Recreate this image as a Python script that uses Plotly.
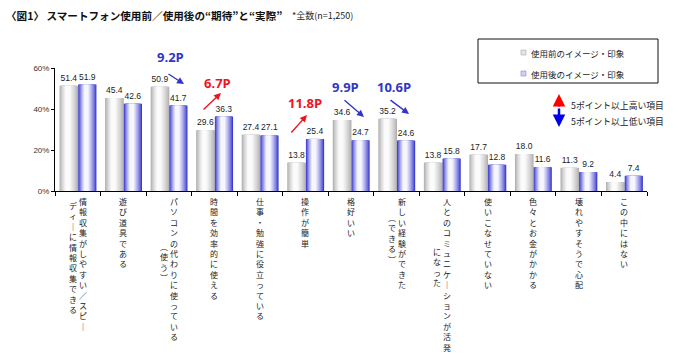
import plotly.graph_objects as go
import numpy as np

# ---------------- data ----------------
title_text = "〈図1〉 スマートフォン使用前／使用後の“期待”と“実際”"
subtitle_text = "*全数(n=1,250)"

# category labels: main vertical column, optional secondary column
cat_main = [
    "情報収集がしやすい／スピー", "遊び道具である", "パソコンの代わりに使っている",
    "時間を効率的に使える", "仕事・勉強に役立っている", "操作が簡単", "格好いい",
    "新しい経験ができた", "人とのコミュニケーションが活発", "使いこなせていない",
    "色々とお金がかかる", "壊れやすそうで心配", "この中にはない",
]
cat_sub = [
    "ディーに情報収集できる", "", "（使う）", "", "", "", "",
    "（できる）", "になった", "", "", "", "",
]
before_vals = [51.4, 45.4, 50.9, 29.6, 27.4, 13.8, 34.6, 35.2, 13.8, 17.7, 18.0, 11.3, 4.4]
after_vals = [51.9, 42.6, 41.7, 36.3, 27.1, 25.4, 24.7, 24.6, 15.8, 12.8, 11.6, 9.2, 7.4]
series_names = ["使用前のイメージ・印象", "使用後のイメージ・印象"]

diff_labels = ["9.2P", "6.7P", "11.8P", "9.9P", "10.6P"]
diff_cats = [2, 3, 5, 6, 7]
diff_up = [False, True, True, False, False]

y_ticks = [0, 20, 40, 60]
y_ticktext = ["0%", "20%", "40%", "60%"]
key_up_text = "5ポイント以上高い項目"
key_down_text = "5ポイント以上低い項目"

# ---------------- layout geometry ----------------
W, H = 678, 358
L, R, T, B = 55, 647, 68, 191
YMAX = 60
n = len(cat_main)
x = np.arange(n)

def px(xp):
    return (xp - L) / (R - L)

def py(yp):
    return (B - yp) / (B - T)

def dx(xp):
    return (xp - L) / (R - L) * n - 0.5

BLUE_TXT = "#2f36c8"
RED_TXT = "#f0141e"
JP = "Noto Sans CJK JP"

fig = go.Figure()

def hex2rgb(h):
    h = h.lstrip("#")
    return np.array([int(h[i:i + 2], 16) for i in (0, 2, 4)], dtype=float)

def add_gradient_bars(vals, off, w, edge, center, name):
    e, c = hex2rgb(edge), hex2rgb(center)
    nl = 9
    for k in range(nl):
        f = 1.0 - k / nl * 0.85
        t = (k / (nl - 1)) ** 0.8
        col = e * (1 - t) + c * t
        colstr = "rgb(%d,%d,%d)" % tuple(col)
        kw = {}
        if k == 0:
            kw = dict(text=["%.1f" % v for v in vals], textposition="outside",
                      textfont=dict(family="Arial", size=8.5, color="#222"),
                      cliponaxis=False)
        fig.add_trace(go.Bar(
            x=x, y=vals, width=w * f, offset=off + 0.42 * w * (1 - f),
            marker=dict(color=colstr, line=dict(width=0)),
            showlegend=False, hoverinfo="skip" if k else "y", name=name, **kw))

add_gradient_bars(before_vals, -0.40, 0.41, "#b0b0b0", "#fbfbfb", series_names[0])
add_gradient_bars(after_vals, 0.01, 0.40, "#3a3acd", "#f6f6ff", series_names[1])

ann = []
# title & subtitle
ann.append(dict(text="<b>" + title_text + "</b>", xref="paper", yref="paper",
                x=px(4), y=py(15), xanchor="left", yanchor="middle", showarrow=False,
                font=dict(family=JP, size=10.6, color="#111")))
ann.append(dict(text=subtitle_text, xref="paper", yref="paper",
                x=px(290), y=py(16), xanchor="left", yanchor="middle", showarrow=False,
                font=dict(family=JP, size=9, color="#222")))

# vertical category labels
fs = 8
pitch = fs * 1.2
top_shift = -3
def vert(s):
    s = s.replace("ー", "｜").replace("（", "︵").replace("）", "︶")
    return "<br>".join(list(s))

for i in range(n):
    two = cat_sub[i] != ""
    shift_main = 5 if two else 0
    ann.append(dict(text=vert(cat_main[i]), x=i, xref="x", y=0, yref="paper",
                    xanchor="center", yanchor="top", yshift=top_shift, xshift=shift_main,
                    showarrow=False, font=dict(family=JP, size=fs, color="#222")))
    if two:
        nm = len(cat_main[i])
        ann.append(dict(text=vert(cat_sub[i]), x=i, xref="x", y=0, yref="paper",
                        xanchor="center", yanchor="middle",
                        yshift=top_shift - nm * pitch / 2 - 1, xshift=-5,
                        showarrow=False, font=dict(family=JP, size=fs, color="#222")))

# difference labels and arrows (positions in pixels of the page)
text_pos = [(170, 57), (217, 83), (305, 103), (345, 87), (394, 87)]
arrows = [((167, 73), (184, 84)), ((202, 111), (221, 93)), ((290, 134), (307, 115)),
          ((343, 99), (364, 117)), ((389, 99), (409, 114))]
for lab, up, (tx, ty), (tail, head) in zip(diff_labels, diff_up, text_pos, arrows):
    col = RED_TXT if up else BLUE_TXT
    ann.append(dict(text="<b>" + lab + "</b>", x=dx(tx), y=py(ty), xref="x", yref="paper",
                    xanchor="center", yanchor="middle",
                    showarrow=False, font=dict(family="Open Sans", size=13, color=col)))
    ann.append(dict(text="", x=dx(head[0]), y=py(head[1]), xref="x", yref="paper",
                    ax=tail[0] - head[0], ay=tail[1] - head[1], showarrow=True,
                    arrowhead=2, arrowsize=1, arrowwidth=1.4, arrowcolor=col))

# legend box contents
ann.append(dict(text=series_names[0], xref="paper", yref="paper", x=px(529), y=py(53),
                xanchor="left", yanchor="middle", showarrow=False,
                font=dict(family=JP, size=8.5, color="#222")))
ann.append(dict(text=series_names[1], xref="paper", yref="paper", x=px(529), y=py(74),
                xanchor="left", yanchor="middle", showarrow=False,
                font=dict(family=JP, size=8.5, color="#222")))

# up/down key (arrow tails given in pixel offsets)
ann.append(dict(text="", xref="paper", yref="paper", x=px(559), y=py(94), ax=0, ay=14,
                showarrow=True, arrowhead=2, arrowsize=1.0,
                arrowwidth=2.5, arrowcolor="#ff0000"))
ann.append(dict(text="", xref="paper", yref="paper", x=px(559), y=py(127), ax=0, ay=-20,
                showarrow=True, arrowhead=2, arrowsize=1.0,
                arrowwidth=2.5, arrowcolor="#0000ee"))
ann.append(dict(text=key_up_text, xref="paper", yref="paper", x=px(569), y=py(105),
                xanchor="left", yanchor="middle", showarrow=False,
                font=dict(family=JP, size=8.8, color="#222")))
ann.append(dict(text=key_down_text, xref="paper", yref="paper", x=px(569), y=py(121),
                xanchor="left", yanchor="middle", showarrow=False,
                font=dict(family=JP, size=8.8, color="#222")))

shapes = [
    dict(type="rect", xref="paper", yref="paper", x0=px(478), x1=px(658), y0=py(39), y1=py(83),
         line=dict(color="#111", width=1), fillcolor="white"),
    dict(type="rect", xref="paper", yref="paper", x0=px(521), x1=px(526), y0=py(50), y1=py(55),
         line=dict(color="#aaa", width=0.6), fillcolor="#e4e4e4"),
    dict(type="rect", xref="paper", yref="paper", x0=px(521), x1=px(526), y0=py(71), y1=py(76),
         line=dict(color="#8888cc", width=0.6), fillcolor="#d0d0ee"),
]

fig.update_layout(
    width=W, height=H, barmode="overlay",
    margin=dict(l=L, r=W - R, t=T, b=H - B),
    paper_bgcolor="white", plot_bgcolor="white",
    showlegend=False, annotations=ann, shapes=shapes,
    xaxis=dict(range=[-0.5, n - 0.5], showticklabels=False, showgrid=False, zeroline=False,
               showline=True, linecolor="#000", linewidth=1, ticks="outside", ticklen=4,
               tickcolor="#000", tick0=-0.5, dtick=1, tickmode="linear"),
    yaxis=dict(range=[0, YMAX], tickvals=y_ticks, ticktext=y_ticktext, showgrid=False,
               zeroline=False, showline=True, linecolor="#000", linewidth=1, ticks="outside",
               ticklen=3, tickcolor="#000", tickfont=dict(family="Arial", size=8, color="#333")),
)

fig.write_html("out.html", config={"displayModeBar": False},
               post_script="document.body.style.margin='0';document.body.style.overflow='hidden';")
